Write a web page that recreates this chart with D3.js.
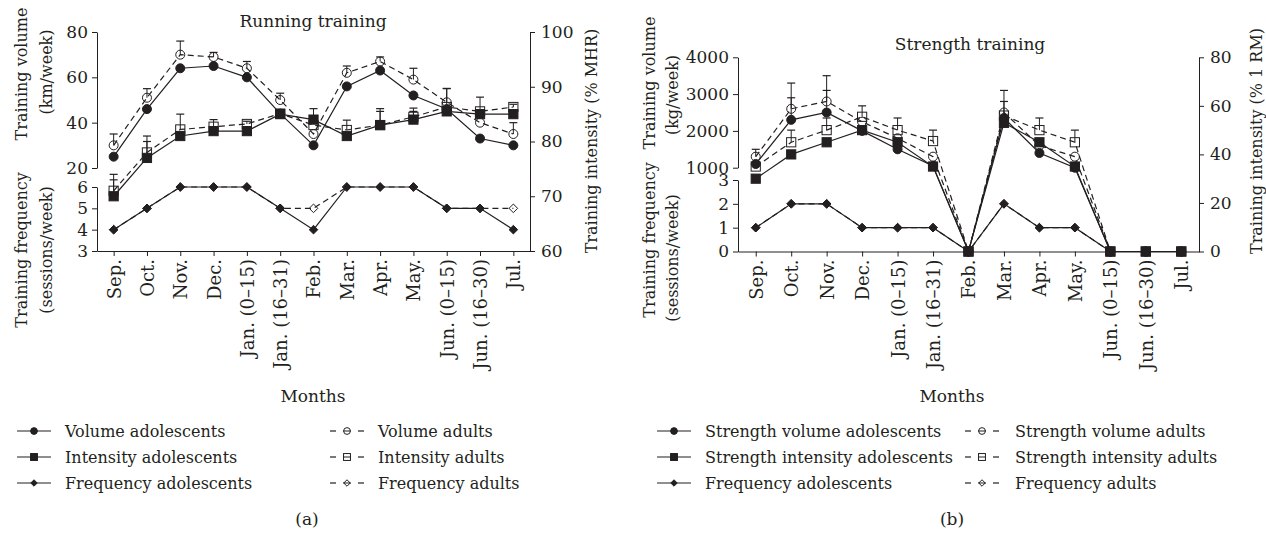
<!DOCTYPE html>
<html><head><meta charset="utf-8">
<script src="https://cdn.jsdelivr.net/npm/d3@7"></script>
<style>
body{margin:0;background:#fff}
svg{display:block;background:#fff}
text{font-family:"DejaVu Serif",serif;fill:#231f20}
</style>
</head><body>
<svg id="c" width="1266" height="537"></svg>
<script>
// ---------- DATA ----------
const months = ["Sep.","Oct.","Nov.","Dec.","Jan. (0–15)","Jan. (16–31)","Feb.","Mar.","Apr.","May.","Jun. (0–15)","Jun. (16–30)","Jul."];

// (a) Running training
const runVolAdol     = [25, 46, 64, 65, 60, 44, 30, 56, 63, 52, 46, 33, 30];
const runVolAdult    = [30, 51, 70, 69, 64, 50, 35, 62, 67, 59, 49, 40, 35];
const runVolAdultSD  = [5, 4, 6, 2, 3, 3, 0, 3, 2, 5, 6, 0, 5];
const runIntAdol     = [70, 77, 81, 81.9, 81.9, 85, 84, 81, 83, 84, 85.5, 85, 85];
const runIntAdolSD   = [3, 3, 0, 0, 0, 0, 2, 0, 2.5, 1.5, 0, 0, 0];
const runIntAdult    = [71, 78, 82.2, 82.7, 83.2, 85.1, 83, 82.1, 83, 84.5, 86.3, 85.5, 86.3];
const runIntAdultSD  = [3, 3, 2.8, 1.3, 0.5, 0, 0, 1.8, 3, 1.6, 3.4, 2.6, 0.5];
const runFreqAdol    = [4, 5, 6, 6, 6, 5, 4, 6, 6, 6, 5, 5, 4];
const runFreqAdult   = [4, 5, 6, 6, 6, 5, 5, 6, 6, 6, 5, 5, 5];

// (b) Strength training
const strVolAdol     = [1100, 2300, 2500, 2000, 1500, 1050, 0, 2350, 1400, 1000, 0, 0, 0];
const strVolAdolSD   = [0, 600, 600, 0, 0, 0, 0, 450, 0, 0, 0, 0, 0];
const strVolAdult    = [1300, 2600, 2800, 2250, 1800, 1300, 0, 2500, 1600, 1300, 0, 0, 0];
const strVolAdultSD  = [200, 700, 700, 0, 0, 0, 0, 600, 0, 0, 0, 0, 0];
const strIntAdol     = [30, 40, 45, 50, 45, 35, 0, 53, 45, 35, 0, 0, 0];
const strIntAdult    = [35, 45, 50, 55.5, 50, 45.5, 0, 56, 50, 45, 0, 0, 0];
const strIntAdultSD  = [0, 5, 5, 4.5, 5, 4.5, 0, 0, 5, 5, 0, 0, 0];
const strFreqAdol    = [1, 2, 2, 1, 1, 1, 0, 2, 1, 1, 0, 0, 0];
const strFreqAdult   = [1, 2, 2, 1, 1, 1, 0, 2, 1, 1, 0, 0, 0];

const runTopTicks = [20, 40, 60, 80];
const runBotTicks = [3, 4, 5, 6];
const runRightTicks = [60, 70, 80, 90, 100];
const strTopTicks = [1000, 2000, 3000, 4000];
const strBotTicks = [0, 1, 2, 3];
const strRightTicks = [0, 20, 40, 60, 80];

const legendA = [
  ["Volume adolescents","circle",true],["Intensity adolescents","square",true],["Frequency adolescents","diamond",true],
  ["Volume adults","circle",false],["Intensity adults","square",false],["Frequency adults","diamond",false]];
const legendB = [
  ["Strength volume adolescents","circle",true],["Strength intensity adolescents","square",true],["Frequency adolescents","diamond",true],
  ["Strength volume adults","circle",false],["Strength intensity adults","square",false],["Frequency adults","diamond",false]];

// ---------- DRAW ----------
const INK = "#231f20";
const svg = d3.select("#c");

function marker(g, type, filled, cx, cy, scale){
  const s = scale || 1;
  let el;
  if(type==="circle"){
    el = g.append("circle").attr("cx",cx).attr("cy",cy).attr("r",4.5*s);
  } else if(type==="square"){
    const h = 4.6*s;
    el = g.append("rect").attr("x",cx-h).attr("y",cy-h).attr("width",2*h).attr("height",2*h);
  } else {
    const h = 4.3*s;
    el = g.append("path").attr("d",`M${cx},${cy-h}L${cx+h},${cy}L${cx},${cy+h}L${cx-h},${cy}Z`);
  }
  el.attr("fill", filled?INK:"none").attr("stroke",INK).attr("stroke-width",1);
}

function styleAxis(size){
  return sel=>{
    sel.attr("font-size",null).attr("font-family",null);
    sel.selectAll("path,line").attr("stroke",INK).attr("stroke-width",1);
    sel.selectAll("text").style("font-size",size).attr("fill",INK);
  };
}

function panel(o){
  const g = svg.append("g");
  const x = d3.scalePoint().domain(months).range([o.x0,o.x1]).padding(0.5);

  // axes
  g.append("g").attr("transform",`translate(${o.x0},0)`)
    .call(d3.axisLeft(o.yTopAxis).tickValues(o.topTicks).tickSize(5).tickSizeOuter(0).tickPadding(4).tickFormat(d3.format("d")))
    .call(styleAxis("17px"));
  g.append("g").attr("transform",`translate(${o.x0},0)`)
    .call(d3.axisLeft(o.yBot).tickValues(o.botTicks).tickSize(5).tickSizeOuter(0).tickPadding(4).tickFormat(d3.format("d")))
    .call(styleAxis("17px"));
  g.append("g").attr("transform",`translate(${o.x1},0)`)
    .call(d3.axisRight(o.yRight).tickValues(o.rightTicks).tickSize(5).tickSizeOuter(0).tickPadding(6).tickFormat(d3.format("d")))
    .call(styleAxis("17px"));
  const xa = g.append("g").attr("transform",`translate(0,${o.yBase})`)
    .call(d3.axisBottom(x).tickSize(5).tickSizeOuter(0))
    .call(styleAxis("18px"));
  xa.selectAll("text").attr("transform","rotate(-90)").attr("x",-8).attr("y",0).attr("dy","0.36em").style("text-anchor","end");

  // series
  const series = o.series;
  series.forEach(s=>{
    const line = d3.line().x((d,i)=>x(months[i])).y(d=>s.y(d));
    g.append("path").datum(s.values).attr("d",line).attr("fill","none")
      .attr("stroke",INK).attr("stroke-width",1.2)
      .attr("stroke-dasharray", s.dashed?"6,4":null);
  });
  series.forEach(s=>{
    if(!s.sd) return;
    s.values.forEach((v,i)=>{
      if(!s.sd[i]) return;
      const cx = x(months[i]);
      const y0 = s.y(v), y1 = s.y(v + s.sd[i]);
      g.append("line").attr("x1",cx).attr("x2",cx).attr("y1",y0).attr("y2",y1).attr("stroke",INK).attr("stroke-width",1);
      g.append("line").attr("x1",cx-4).attr("x2",cx+4).attr("y1",y1).attr("y2",y1).attr("stroke",INK).attr("stroke-width",1.2);
    });
  });
  series.forEach(s=>{
    s.values.forEach((v,i)=> marker(g, s.type, !s.dashed, x(months[i]), s.y(v)));
  });

  // texts
  g.append("text").attr("x",o.titleX).attr("y",o.titleY).attr("text-anchor","middle").style("font-size","17px").text(o.title);
  g.append("text").attr("x",o.monthsX).attr("y",402).attr("text-anchor","middle").style("font-size","17px").text("Months");
  o.yTitles.forEach(t=>{
    g.append("text").attr("transform",`translate(${t[0]},${t[1]}) rotate(-90)`).attr("text-anchor","middle")
      .attr("dy","0.35em").style("font-size","16px").text(t[2]);
  });
  g.append("text").attr("x",o.capX).attr("y",525).attr("text-anchor","middle").style("font-size","17px").text(o.cap);

  // legend
  const rows=[431,457,483];
  o.legend.forEach((it,k)=>{
    const col = k<3?0:1, r = rows[k%3];
    const cx = o.legX[col], tx = o.legTX[col];
    const dashed = !it[2];
    if(dashed){
      g.append("line").attr("x1",cx-17).attr("x2",cx-11).attr("y1",r).attr("y2",r).attr("stroke",INK).attr("stroke-width",1.2);
      g.append("line").attr("x1",cx+11).attr("x2",cx+17).attr("y1",r).attr("y2",r).attr("stroke",INK).attr("stroke-width",1.2);
      g.append("line").attr("x1",cx-4).attr("x2",cx+4).attr("y1",r).attr("y2",r).attr("stroke",INK).attr("stroke-width",1);
    } else {
      g.append("line").attr("x1",cx-17).attr("x2",cx+17).attr("y1",r).attr("y2",r).attr("stroke",INK).attr("stroke-width",1.2);
    }
    marker(g, it[1], it[2], cx, r, 0.75);
    g.append("text").attr("x",tx).attr("y",r+6).style("font-size","16px").text(it[0]);
  });
}

// (a)
const aTop = d3.scaleLinear().domain([20,80]).range([168,32]);
const aBot = d3.scaleLinear().domain([3,6]).range([251,187]);
const aRight = d3.scaleLinear().domain([60,100]).range([251,32]);
panel({
  x0:97, x1:530, yBase:251,
  yTopAxis:aTop, yBot:aBot, yRight:aRight,
  topTicks:runTopTicks, botTicks:runBotTicks, rightTicks:runRightTicks,
  series:[
    {values:runFreqAdult, y:aBot, type:"diamond", dashed:true},
    {values:runFreqAdol, y:aBot, type:"diamond", dashed:false},
    {values:runIntAdult, y:aRight, type:"square", dashed:true, sd:runIntAdultSD},
    {values:runIntAdol, y:aRight, type:"square", dashed:false, sd:runIntAdolSD},
    {values:runVolAdult, y:aTop, type:"circle", dashed:true, sd:runVolAdultSD},
    {values:runVolAdol, y:aTop, type:"circle", dashed:false}
  ],
  title:"Running training", titleX:313, titleY:27, monthsX:313,
  yTitles:[[21,74,"Training volume"],[46,72,"(km/week)"],[21,250,"Training frequency"],[46,250,"(sessions/week)"],[591,141,"Training intensity (% MHR)"]],
  cap:"(a)", capX:307,
  legend:legendA, legX:[34,347], legTX:[65,378]
});

// (b)
const bTopAxis = d3.scaleLinear().domain([1000,4000]).range([167.7,57.3]);
const bVol = d3.scaleLinear().domain([0,1000,4000]).range([251.5,167.7,57.3]);
const bBot = d3.scaleLinear().domain([0,3]).range([251.5,180]);
const bRight = d3.scaleLinear().domain([0,80]).range([251.5,57.3]);
panel({
  x0:738, x1:1199, yBase:251.5,
  yTopAxis:bTopAxis, yBot:bBot, yRight:bRight,
  topTicks:strTopTicks, botTicks:strBotTicks, rightTicks:strRightTicks,
  series:[
    {values:strFreqAdult, y:bBot, type:"diamond", dashed:true},
    {values:strFreqAdol, y:bBot, type:"diamond", dashed:false},
    {values:strIntAdult, y:bRight, type:"square", dashed:true, sd:strIntAdultSD},
    {values:strIntAdol, y:bRight, type:"square", dashed:false},
    {values:strVolAdult, y:bVol, type:"circle", dashed:true, sd:strVolAdultSD},
    {values:strVolAdol, y:bVol, type:"circle", dashed:false, sd:strVolAdolSD}
  ],
  title:"Strength training", titleX:970, titleY:50, monthsX:952,
  yTitles:[[649,83,"Training volume"],[672,95,"(kg/week)"],[649,240,"Training frequency"],[672,258,"(sessions/week)"],[1256,141,"Training intensity (% 1 RM)"]],
  cap:"(b)", capX:952,
  legend:legendB, legX:[674,982], legTX:[705,1015]
});
</script>
</body></html>
